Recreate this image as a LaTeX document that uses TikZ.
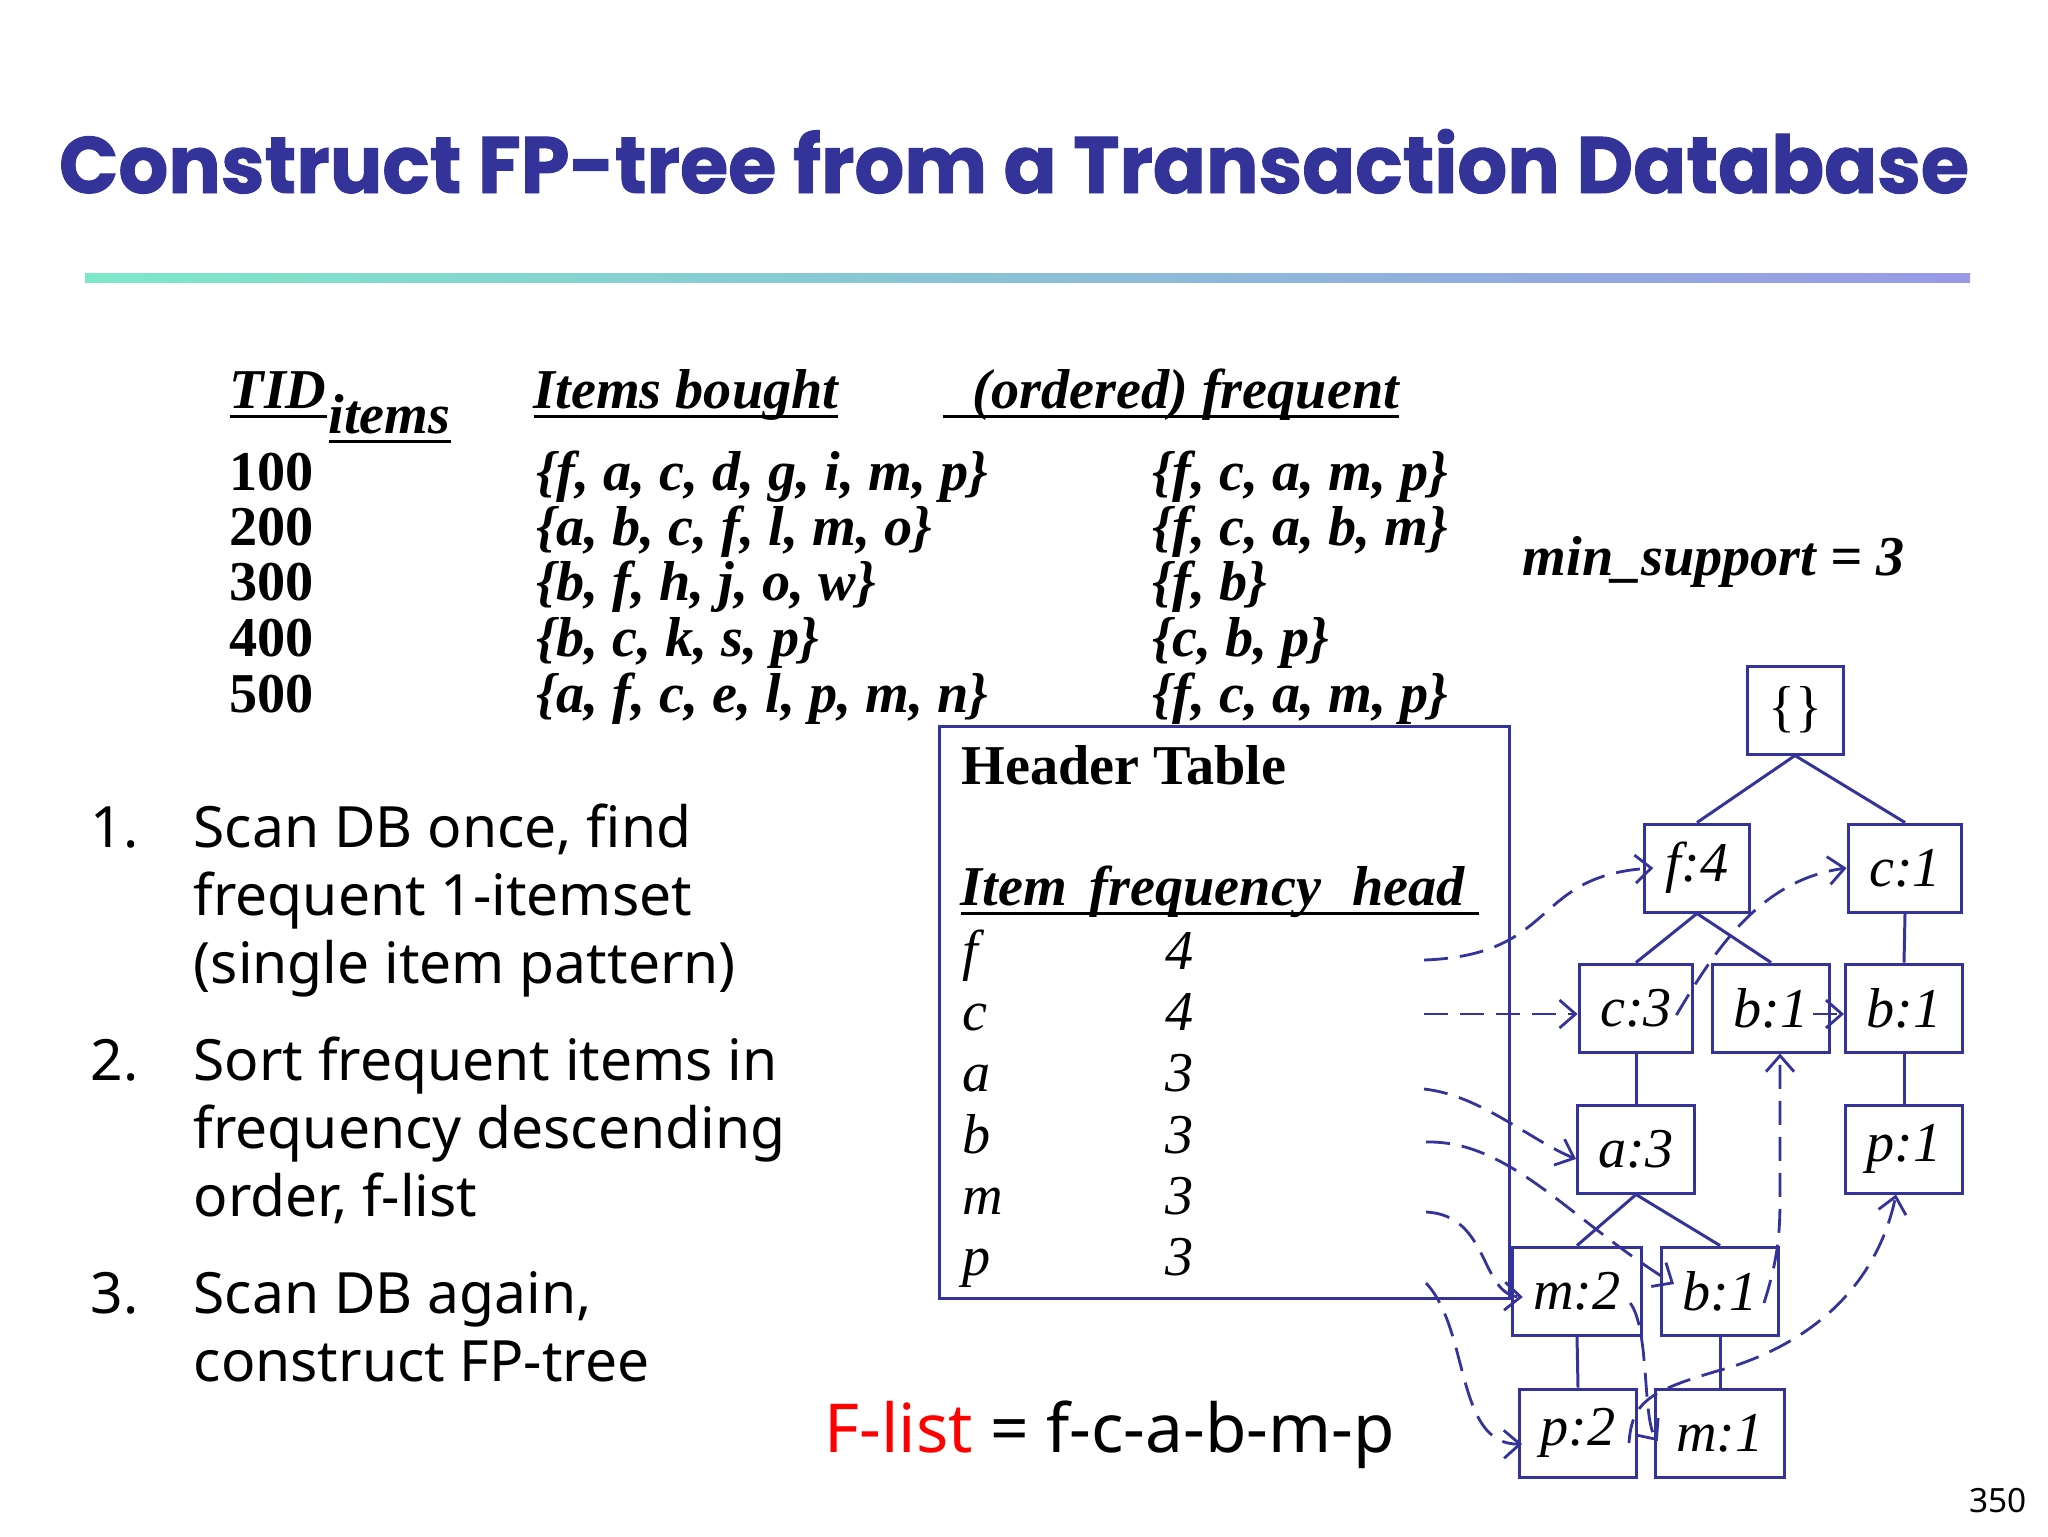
\documentclass[tikz,border=0pt]{standalone}
\usepackage{fontspec}
\setmainfont{Liberation Serif}
\newfontfamily\listfont{Noto Sans}
\newfontfamily\titlefont{Poppins}[BoldFeatures={FakeBold=1.2}]
\usetikzlibrary{arrows.meta}

\definecolor{slideblue}{RGB}{51,51,153}
\definecolor{barleft}{RGB}{125,232,200}
\definecolor{barright}{RGB}{153,153,230}
\definecolor{flistred}{RGB}{255,0,0}

% thicker underline, as on the slide
\newcommand{\thickul}[1]{\setbox0\hbox{#1}\rlap{\rule[-1mm]{\wd0}{0.35mm}}\box0}

\tikzset{
	fpnode/.style={draw=slideblue, line width=0.85pt, inner xsep=2.1mm, inner ysep=0pt, minimum height=8.8mm, font=\fontsize{16}{19}\selectfont\itshape},
	treeedge/.style={draw=slideblue, line width=0.85pt},
	nodelink/.style={draw=slideblue, line width=0.8pt, dash pattern=on 2.4mm off 1.2mm, -{Straight Barb[length=1.6mm,width=2.8mm]}},
	dbhead/.style={anchor=base west, font=\fontsize{16}{19}\selectfont\bfseries\itshape},
	dbtid/.style={anchor=base west, font=\fontsize{16}{19}\selectfont\bfseries},
	htitem/.style={anchor=base west, font=\fontsize{16}{19}\selectfont\itshape},
	listtext/.style={anchor=base west, font=\listfont\fontsize{16.2}{19.4}\selectfont},
}

\begin{document}
\begin{tikzpicture}[x=0.1mm, y=-0.1mm, every node/.style={inner sep=0pt}]
	\useasboundingbox (0,0) rectangle (2048,1536);

	% title and bar
	\node[anchor=base, text=slideblue] (title) at (1014,193) {\resizebox{191mm}{6.4mm}{\titlefont\bfseries Construct FP-tree from a Transaction Database}};
	\shade[left color=barleft, right color=barright] (85,273) rectangle (1970,282);

	% transaction database
	\node[dbhead] (tid) at (229,408) {\thickul{TID}};
	\node[dbhead] (tiditems) at (328,433) {\thickul{items}};
	\node[dbhead] (bought) at (533,408) {\thickul{Items bought}};
	\node[dbhead] (ordered) at (942,408) {\thickul{\hspace{3mm}(ordered) frequent}};

	\node[dbtid] (t100) at (229,490) {100};
	\node[dbtid] (t200) at (229,545) {200};
	\node[dbtid] (t300) at (229,600) {300};
	\node[dbtid] (t400) at (229,656) {400};
	\node[dbtid] (t500) at (229,712) {500};

	\node[dbhead] (b100) at (536,490) {\{f, a, c, d, g, i, m, p\}};
	\node[dbhead] (b200) at (536,545) {\{a, b, c, f, l, m, o\}};
	\node[dbhead] (b300) at (536,600) {\{b, f, h, j, o, w\}};
	\node[dbhead] (b400) at (536,656) {\{b, c, k, s, p\}};
	\node[dbhead] (b500) at (536,712) {\{a, f, c, e, l, p, m, n\}};

	\node[dbhead] (f100) at (1152,490) {\{f, c, a, m, p\}};
	\node[dbhead] (f200) at (1152,545) {\{f, c, a, b, m\}};
	\node[dbhead] (f300) at (1152,600) {\{f, b\}};
	\node[dbhead] (f400) at (1152,656) {\{c, b, p\}};
	\node[dbhead] (f500) at (1152,712) {\{f, c, a, m, p\}};

	\node[dbhead] (minsup) at (1522,575) {min\_support = 3};

	% header table
	\node[draw=slideblue, line width=0.85pt, anchor=north west, minimum width=57mm, minimum height=57.2mm] (header) at (938,725) {};
	\node[dbtid] (headertitle) at (961,784) {Header Table};
	\node[dbhead] (headercols) at (960,905) {\thickul{Item\hspace{2.3mm}frequency\hspace{3.1mm}head\hspace{1.4mm}}};

	\node[htitem] (hif) at (962,969) {f};   \node[htitem] (hnf) at (1165,969) {4};
	\node[htitem] (hic) at (962,1030) {c};  \node[htitem] (hnc) at (1165,1030) {4};
	\node[htitem] (hia) at (962,1091) {a};  \node[htitem] (hna) at (1165,1091) {3};
	\node[htitem] (hib) at (962,1153) {b};  \node[htitem] (hnb) at (1165,1153) {3};
	\node[htitem] (him) at (962,1214) {m};  \node[htitem] (hnm) at (1165,1214) {3};
	\node[htitem] (hip) at (962,1275) {p};  \node[htitem] (hnp) at (1165,1275) {3};

	% FP-tree
	\node[fpnode, font=\fontsize{16}{19}\selectfont] (root) at (1795,710) {\{\}};
	\node[fpnode] (f4) at (1697,868) {f:4};
	\node[fpnode] (c1) at (1905,868) {c:1};
	\node[fpnode] (c3) at (1636,1008) {c:3};
	\node[fpnode] (b1m) at (1771,1008) {b:1};
	\node[fpnode] (b1r) at (1904,1008) {b:1};
	\node[fpnode] (a3) at (1636,1149) {a:3};
	\node[fpnode] (p1) at (1904,1149) {p:1};
	\node[fpnode] (m2) at (1577,1291) {m:2};
	\node[fpnode] (b1b) at (1720,1291) {b:1};
	\node[fpnode] (p2) at (1578,1433) {p:2};
	\node[fpnode] (m1) at (1720,1433) {m:1};

	\draw[treeedge] (root.south) -- (f4.north);
	\draw[treeedge] (root.south) -- (c1.north);
	\draw[treeedge] (f4.south) -- (c3.north);
	\draw[treeedge] (f4.south) -- (b1m.north);
	\draw[treeedge] (c1.south) -- (b1r.north);
	\draw[treeedge] (c3.south) -- (a3.north);
	\draw[treeedge] (b1r.south) -- (p1.north);
	\draw[treeedge] (a3.south) -- (m2.north);
	\draw[treeedge] (a3.south) -- (b1b.north);
	\draw[treeedge] (m2.south) -- (p2.north);
	\draw[treeedge] (b1b.south) -- (m1.north);

	% node-links
	\coordinate (hf) at (1424,960);
	\coordinate (hc) at (1424,1014);
	\coordinate (ha) at (1424,1089);
	\coordinate (hb) at (1426,1142);
	\coordinate (hm) at (1426,1212);
	\coordinate (hp) at (1426,1283);
	\coordinate (bmid) at ([xshift=-1.8mm,yshift=-0.6mm]b1m.east);

	\draw[nodelink] (hf) .. controls (1560,955) and (1530,875) .. ([xshift=1mm]f4.west);
	\draw[nodelink] (hc) -- (c3.west |- hc);
	\draw[nodelink] ([xshift=-1.8mm,yshift=-0.7mm]c3.east) .. controls (1715,950) and (1760,880) .. (c1.west);
	\draw[nodelink] (bmid) -- (b1r.west |- bmid);
	\draw[nodelink] (ha) .. controls (1480,1095) and (1530,1140) .. ([yshift=-1mm]a3.west);
	\draw[nodelink] (hb) .. controls (1510,1140) and (1570,1220) .. ([xshift=1.4mm,yshift=0.7mm]b1b.west);
	\draw[nodelink] ([xshift=-1.6mm,yshift=-1.2mm]b1b.east) .. controls (1776,1265) and (1780,1240) .. (1780,1200) -- ([xshift=0.9mm]b1m.south);
	\draw[nodelink] (hm) .. controls (1490,1215) and (1480,1295) .. ([xshift=1.2mm,yshift=-0.6mm]m2.west);
	\draw[nodelink] (hp) .. controls (1470,1330) and (1455,1445) .. ([xshift=0.4mm,yshift=-1.1mm]p2.west);
	\draw[nodelink] ([xshift=-1.3mm,yshift=-1.2mm]m2.east) .. controls (1650,1330) and (1642,1420) .. ([xshift=0.4mm,yshift=-0.8mm]m1.west);
	\draw[nodelink] ([xshift=-0.9mm,yshift=-1mm]p2.east) .. controls (1632,1400) and (1650,1390) .. (1731,1367) .. controls (1830,1335) and (1880,1270) .. ([xshift=-0.8mm]p1.south);

	% steps
	\node[listtext] (num1) at (90,847) {1.};
	\node[listtext] (step1) at (193,847) {\begin{tabular}[t]{@{}l@{}}Scan DB once, find\\frequent 1-itemset\\(single item pattern)\end{tabular}};
	\node[listtext] (num2) at (90,1080) {2.};
	\node[listtext] (step2) at (193,1080) {\begin{tabular}[t]{@{}l@{}}Sort frequent items in\\frequency descending\\order, f-list\end{tabular}};
	\node[listtext] (num3) at (90,1313) {3.};
	\node[listtext] (step3) at (193,1313) {\begin{tabular}[t]{@{}l@{}}Scan DB again,\\construct FP-tree\end{tabular}};

	\node[anchor=base west, font=\listfont\fontsize{19.2}{22}\selectfont] (flist) at (824,1452) {\textcolor{flistred}{F-list} = f-c-a-b-m-p};
	\node[anchor=base east, font=\listfont\fontsize{9.5}{11}\selectfont] (pagenum) at (2027,1512) {350};
\end{tikzpicture}
\end{document}
